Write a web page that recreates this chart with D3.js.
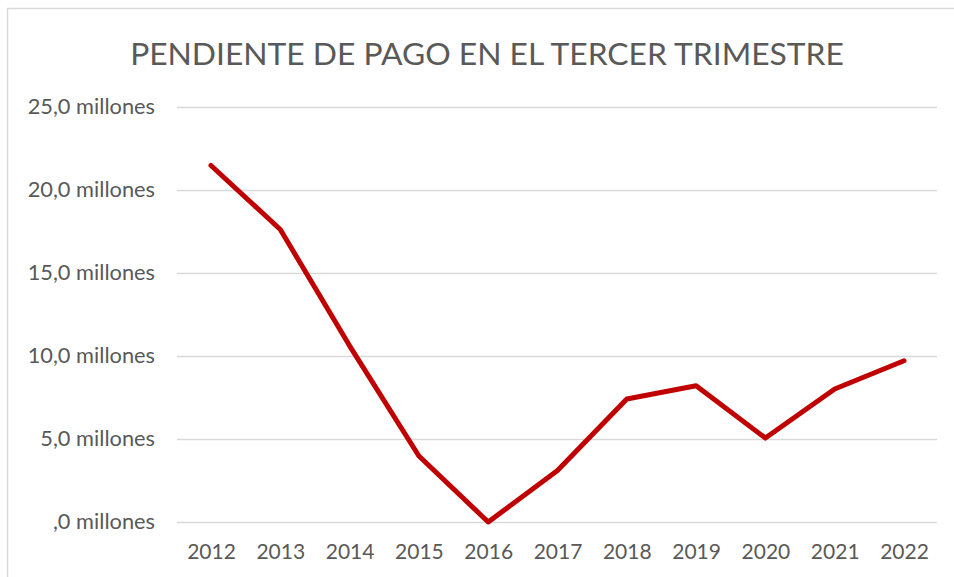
<!DOCTYPE html>
<html>
<head>
<meta charset="utf-8">
<script src="https://cdn.jsdelivr.net/npm/d3@7"></script>
<style>
  body { margin: 0; background: #fff; }
  svg { font-family: Lato, "Open Sans", sans-serif; }
</style>
</head>
<body>
<svg width="954" height="577"></svg>
<script>
const years = ["2012", "2013", "2014", "2015", "2016", "2017", "2018", "2019", "2020", "2021", "2022"];
const pendiente = [21.45, 17.6, 10.6, 3.97, 0.0, 3.1, 7.4, 8.2, 5.05, 8.0, 9.7];
const yTicks = [0, 5, 10, 15, 20, 25];
const title = "PENDIENTE DE PAGO EN EL TERCER TRIMESTRE";

const svg = d3.select("svg"),
    width = +svg.attr("width"),
    height = +svg.attr("height");

// outer chart border
svg.append("rect")
    .attr("x", 7.5).attr("y", 8.5)
    .attr("width", 960).attr("height", 600)
    .attr("fill", "none")
    .attr("stroke", "#d9d9d9")
    .attr("stroke-width", 1.5);

svg.append("text")
    .attr("x", 487).attr("y", 65)
    .attr("text-anchor", "middle")
    .attr("fill", "#595959")
    .attr("font-size", 31.8)
    .text(title);

const x = d3.scalePoint()
    .domain(years)
    .range([211, 904]);

const y = d3.scaleLinear()
    .domain([0, 25])
    .range([522, 106.5]);

const yAxis = d3.axisLeft(y)
    .tickValues(yTicks)
    .tickSize(0)
    .tickPadding(22)
    .tickFormat(d => (d === 0 ? ",0" : d3.format(".1f")(d).replace(".", ",")) + " millones");

const gY = svg.append("g")
    .attr("transform", "translate(177,0)")
    .call(yAxis);
gY.select(".domain").remove();
gY.selectAll("text").attr("fill", "#595959").attr("font-size", 21.8).attr("font-family", "Lato, sans-serif");

// gridlines
svg.append("g")
    .selectAll("line")
    .data(yTicks)
    .join("line")
    .attr("x1", 177).attr("x2", 937)
    .attr("y1", d => Math.round(y(d)) + 0.5)
    .attr("y2", d => Math.round(y(d)) + 0.5)
    .attr("stroke", "#d9d9d9")
    .attr("stroke-width", 1.5);

const xAxis = d3.axisBottom(x)
    .tickSize(0)
    .tickPadding(22);

const gX = svg.append("g")
    .attr("transform", "translate(0,522)")
    .call(xAxis);
gX.select(".domain").remove();
gX.selectAll("text").attr("fill", "#595959").attr("font-size", 21).attr("font-family", "Lato, sans-serif");

const line = d3.line()
    .x((d, i) => x(years[i]))
    .y(d => y(d));

svg.append("path")
    .datum(pendiente)
    .attr("d", line)
    .attr("fill", "none")
    .attr("stroke", "#c00000")
    .attr("stroke-width", 5)
    .attr("stroke-linecap", "round")
    .attr("stroke-linejoin", "round");
</script>
</body>
</html>
